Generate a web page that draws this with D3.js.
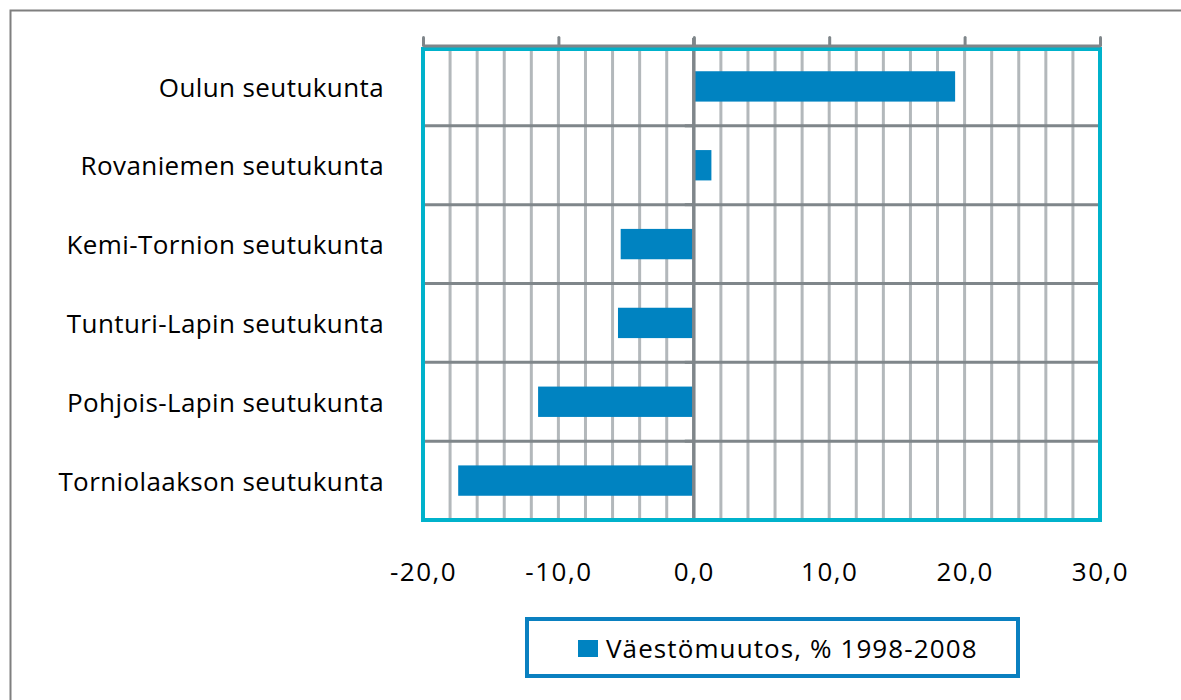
<!DOCTYPE html>
<html>
<head>
<meta charset="utf-8">
<script src="https://cdn.jsdelivr.net/npm/d3@7"></script>
<style>
  body { margin: 0; background: #fff; }
  svg { display: block; font-family: "Open Sans", sans-serif; }
</style>
</head>
<body>
<svg id="chart" width="1181" height="700"></svg>
<script>
// data
const regions = [
  "Oulun seutukunta",
  "Rovaniemen seutukunta",
  "Kemi-Tornion seutukunta",
  "Tunturi-Lapin seutukunta",
  "Pohjois-Lapin seutukunta",
  "Torniolaakson seutukunta"
];
const change = [19.3, 1.3, -5.4, -5.6, -11.5, -17.4];
const xTicks = [-20, -10, 0, 10, 20, 30];
const seriesName = "Väestömuutos, % 1998-2008";

const data = regions.map((r, i) => ({ region: r, value: change[i] }));

const width = 1181;
const height = 700;
const margin = { top: 47, right: 81, bottom: 180, left: 423 };

const svg = d3.select("#chart");

// outer frame
svg.append("rect")
  .attr("x", 10.5).attr("y", 10.5)
  .attr("width", width + 20).attr("height", height + 20)
  .attr("fill", "none")
  .attr("stroke", "#7f7f7f")
  .attr("stroke-width", 2);

const x = d3.scaleLinear()
  .domain([-20, 30])
  .range([margin.left, width - margin.right]);

const y = d3.scaleBand()
  .domain(regions)
  .range([margin.top, height - margin.bottom]);

const fmt = d3.formatLocale({ decimal: ",", thousands: " ", grouping: [3], currency: ["", "€"], minus: "-" }).format(".1f");

// vertical gridlines every 2 units
const minor = d3.range(-18, 30, 2).filter(v => v !== 0);
svg.append("g")
  .selectAll("line")
  .data(minor)
  .join("line")
    .attr("x1", d => x(d)).attr("x2", d => x(d))
    .attr("y1", y.range()[0]).attr("y2", y.range()[1])
    .attr("stroke", "#b3b8bb")
    .attr("stroke-width", 3);

// horizontal separators between categories
svg.append("g")
  .selectAll("line")
  .data(regions.slice(1))
  .join("line")
    .attr("x1", x(-20)).attr("x2", x(30))
    .attr("y1", d => y(d)).attr("y2", d => y(d))
    .attr("stroke", "#7f868a")
    .attr("stroke-width", 3);

// bars
const barH = y.bandwidth() * 0.385;
svg.append("g")
  .selectAll("rect")
  .data(data)
  .join("rect")
    .attr("x", d => x(Math.min(0, d.value)))
    .attr("width", d => Math.abs(x(d.value) - x(0)))
    .attr("y", d => y(d.region) + (y.bandwidth() - barH) / 2)
    .attr("height", barH)
    .attr("fill", "#0083c1");

// category axis at zero, with ticks at band boundaries
const bounds = regions.slice(1).map(r => y(r)).concat([y.range()[1]]);
svg.append("g")
  .selectAll("line")
  .data(bounds)
  .join("line")
    .attr("x1", x(0) - 9).attr("x2", x(0))
    .attr("y1", d => d).attr("y2", d => d)
    .attr("stroke", "#7f868a")
    .attr("stroke-width", 3);
svg.append("line")
  .attr("x1", x(0)).attr("x2", x(0))
  .attr("y1", margin.top - 9).attr("y2", y.range()[1] + 2)
  .attr("stroke", "#7f868a")
  .attr("stroke-width", 3.5);

// plot area border
svg.append("rect")
  .attr("x", x(-20)).attr("y", margin.top + 2)
  .attr("width", x(30) - x(-20))
  .attr("height", y.range()[1] - margin.top - 2)
  .attr("fill", "none")
  .attr("stroke", "#00b2cb")
  .attr("stroke-width", 4);

// top axis line with tick marks
const topAxis = svg.append("g")
  .attr("transform", `translate(0,${margin.top - 1.5})`)
  .call(d3.axisTop(x).tickValues(xTicks).tickSize(8).tickSizeOuter(0).tickFormat(""));
topAxis.select(".domain").attr("stroke", "#7f868a").attr("stroke-width", 3);
topAxis.selectAll(".tick line").attr("stroke", "#7f868a").attr("stroke-width", 3).attr("stroke-linecap", "round");

// tick labels below
const bottomAxis = svg.append("g")
  .attr("transform", `translate(0,${y.range()[1]})`)
  .call(d3.axisBottom(x).tickValues(xTicks).tickSize(0).tickPadding(43).tickFormat(fmt));
bottomAxis.select(".domain").remove();
bottomAxis.selectAll("text")
  .attr("font-family", "Open Sans, sans-serif")
  .attr("font-size", 26)
  .attr("letter-spacing", 1.5)
  .attr("fill", "#000");

// category labels
svg.append("g")
  .selectAll("text")
  .data(regions)
  .join("text")
    .attr("x", 384)
    .attr("y", d => y(d) + y.bandwidth() / 2 + 1)
    .attr("dy", "0.35em")
    .attr("text-anchor", "end")
    .attr("font-size", 26)
    .attr("letter-spacing", 0.4)
    .attr("fill", "#000")
    .text(d => d);

// legend
const legend = svg.append("g");
legend.append("rect")
  .attr("x", 527).attr("y", 619)
  .attr("width", 491).attr("height", 57)
  .attr("fill", "#fff")
  .attr("stroke", "#0a80c0")
  .attr("stroke-width", 4);
legend.append("rect")
  .attr("x", 578).attr("y", 640)
  .attr("width", 20).attr("height", 17)
  .attr("fill", "#0083c1");
legend.append("text")
  .attr("x", 606).attr("y", 649)
  .attr("dy", "0.35em")
  .attr("font-size", 26)
  .attr("letter-spacing", 1.1)
  .attr("fill", "#000")
  .text(seriesName);
</script>
</body>
</html>
